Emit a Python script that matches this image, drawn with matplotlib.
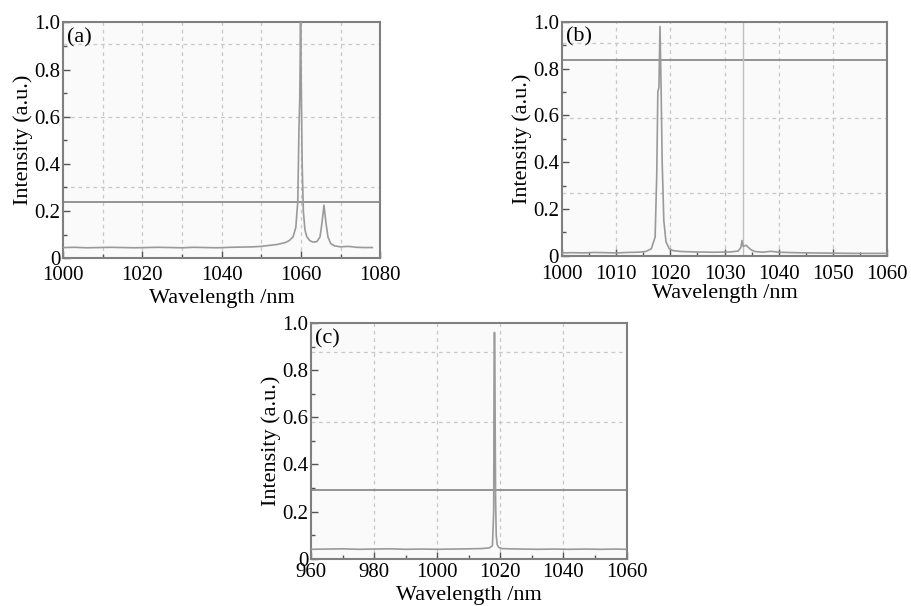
#!/usr/bin/env python
# coding: utf-8
# three laser output spectra (a), (b), (c)
import matplotlib
matplotlib.use('Agg')
import matplotlib.pyplot as plt
from matplotlib.ticker import MultipleLocator

plt.rcParams['font.family'] = ['Liberation Serif', 'DejaVu Serif']
plt.rcParams['font.size'] = 15

# spectrum (a)
wl_a = [1000, 1003, 1006, 1009, 1012, 1015, 1018, 1021, 1024, 1027, 1030, 1033, 1036, 1039, 1042,
        1045, 1048, 1050, 1052, 1054, 1056, 1057, 1058, 1058.7, 1059.2, 1059.5, 1059.7, 1059.9,
        1060.1, 1060.3, 1060.6, 1061, 1061.5, 1062.2, 1063, 1064, 1064.8, 1065.3, 1065.8, 1066.3,
        1066.8, 1067.5, 1068.5, 1070, 1072, 1074, 1076, 1078]
int_a = [0.045, 0.046, 0.044, 0.045, 0.046, 0.045, 0.044, 0.045, 0.046, 0.045, 0.044, 0.046, 0.045,
         0.044, 0.046, 0.047, 0.048, 0.050, 0.054, 0.058, 0.066, 0.074, 0.090, 0.13, 0.24, 0.55,
         0.68, 1.0, 0.70, 0.40, 0.20, 0.12, 0.09, 0.075, 0.068, 0.070, 0.090, 0.15, 0.225, 0.15,
         0.09, 0.062, 0.052, 0.048, 0.050, 0.046, 0.045, 0.045]

# spectrum (b)
wl_b = [1000, 1002, 1004, 1006, 1008, 1010, 1012, 1014, 1015.5, 1016.5, 1017.2, 1017.5, 1017.7,
        1017.9, 1018.1, 1018.3, 1018.5, 1018.8, 1019.2, 1019.8, 1020.5, 1022, 1025, 1028, 1031,
        1032.5, 1033, 1033.2, 1033.4, 1033.7, 1034, 1034.4, 1034.9, 1035.6, 1037, 1038.5, 1040,
        1043, 1046, 1050, 1054, 1057, 1060]
int_b = [0.012, 0.013, 0.012, 0.014, 0.013, 0.012, 0.014, 0.015, 0.018, 0.03, 0.08, 0.35, 0.70,
         0.72, 0.98, 0.72, 0.40, 0.15, 0.06, 0.03, 0.022, 0.018, 0.016, 0.015, 0.016, 0.02, 0.035,
         0.065, 0.04, 0.042, 0.045, 0.035, 0.025, 0.018, 0.015, 0.019, 0.015, 0.013, 0.012, 0.011,
         0.010, 0.010, 0.010]
line_b = 1033.4

# spectrum (c)
wl_c = [960, 965, 970, 975, 980, 985, 990, 995, 1000, 1005, 1010, 1014, 1016.5, 1017.5, 1017.9,
        1018.05, 1018.15, 1018.25, 1018.35, 1018.5, 1018.7, 1019, 1019.5, 1020.5, 1023, 1027,
        1032, 1037, 1042, 1047, 1052, 1056, 1060]
int_c = [0.040, 0.041, 0.042, 0.040, 0.041, 0.042, 0.040, 0.041, 0.040, 0.041, 0.042, 0.043,
         0.046, 0.055, 0.20, 0.91, 0.96, 0.91, 0.60, 0.25, 0.10, 0.06, 0.048, 0.043, 0.042,
         0.041, 0.040, 0.041, 0.040, 0.041, 0.040, 0.041, 0.040]

panels = ['(a)', '(b)', '(c)']
xlims = [(1000, 1080), (1000, 1060), (960, 1060)]
xmajor = [20, 10, 20]
xminor = [10, 5, 10]
vgrid = [[1010, 1020, 1030, 1040, 1050, 1060, 1070],
         [1010, 1020, 1030, 1040, 1050],
         [980, 1000, 1020, 1040]]
hgrid = [[0.30, 0.60, 0.91], [0.27, 0.59, 0.91], [0.58, 0.877]]
hsolid = [0.24, 0.835, 0.29]

# axes rectangles in figure fraction
rects = [[0.069, 0.574, 0.348, 0.389],
         [0.616, 0.578, 0.357, 0.386],
         [0.341, 0.078, 0.346, 0.389]]
xtick_pad = [6.0, 6.5, 3.0]
xlabel_pad = [2.5, 0.5, 3.0]

fig = plt.figure(figsize=(9.12, 6.06), dpi=100)
data = [(wl_a, int_a), (wl_b, int_b), (wl_c, int_c)]
for i in range(3):
    ax = fig.add_axes(rects[i])
    ax.set_facecolor('#fafafa')
    for v in vgrid[i]:
        ax.axvline(v, color='#c8c8c8', lw=0.9, ls=(0, (3, 3)), zorder=1)
    for h in hgrid[i]:
        ax.axhline(h, color='#c8c8c8', lw=0.9, ls=(0, (3, 3)), zorder=1)
    ax.axhline(hsolid[i], color='#8c8c8c', lw=1.3, zorder=2)
    if i == 1:
        ax.axvline(line_b, color='#c0c0c0', lw=1.0, zorder=2)
    ax.plot(data[i][0], data[i][1], color='#9a9a9a', lw=1.2, zorder=3)
    ax.set_xlim(*xlims[i])
    ax.set_ylim(0, 1.0)
    ax.xaxis.set_major_locator(MultipleLocator(xmajor[i]))
    ax.xaxis.set_minor_locator(MultipleLocator(xminor[i]))
    ax.yaxis.set_major_locator(MultipleLocator(0.2))
    ax.yaxis.set_minor_locator(MultipleLocator(0.1))
    ax.yaxis.set_major_formatter(matplotlib.ticker.FuncFormatter(
        lambda y, pos: '0' if abs(y) < 1e-9 else '%.1f' % y))
    ax.tick_params(which='both', direction='in', color='#555555', width=1.0,
                   top=False, right=False, labelsize=15)
    ax.tick_params(axis='y', pad=2)
    ax.tick_params(axis='x', pad=xtick_pad[i])
    ax.tick_params(which='major', length=5)
    ax.tick_params(which='minor', length=3)
    for s in ax.spines.values():
        s.set_color('#808080')
        s.set_linewidth(1.5)
    ax.set_xlabel('Wavelength /nm', fontsize=16, labelpad=xlabel_pad[i])
    ax.set_ylabel('Intensity (a.u.)', fontsize=16, labelpad=1)
    ax.text(0.012, 0.975, panels[i], transform=ax.transAxes, fontsize=16,
            ha='left', va='top')

plt.savefig('out.png', dpi=100)
